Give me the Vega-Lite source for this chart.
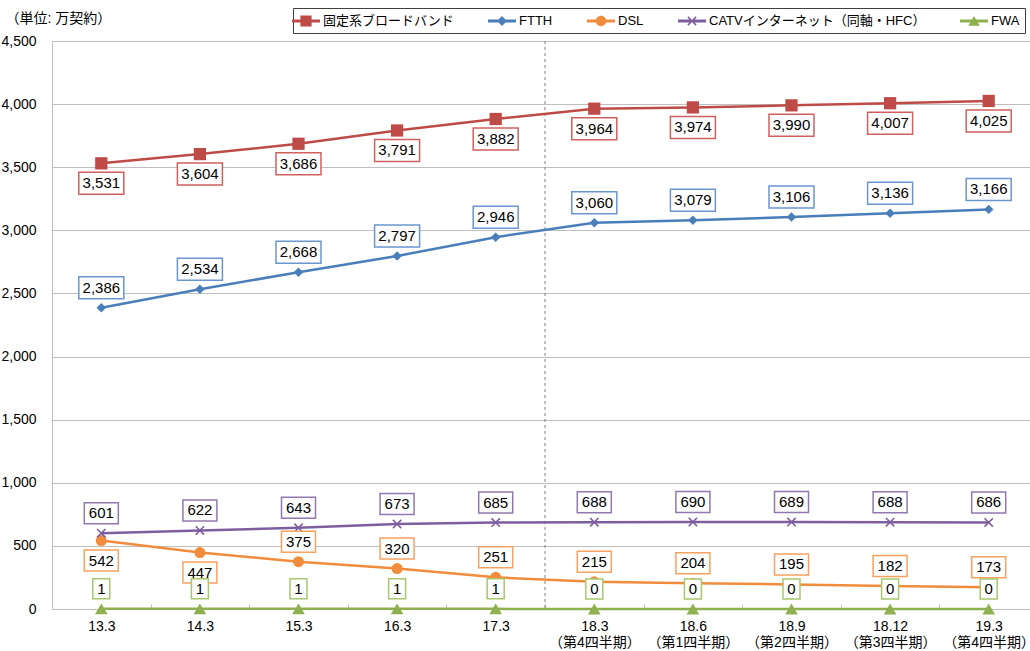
{
  "$schema": "https://vega.github.io/schema/vega-lite/v6.json",
  "width": 986,
  "height": 568,
  "autosize": {"type": "none"},
  "padding": {"left": 52, "top": 41, "right": 0, "bottom": 42},
  "background": "white",
  "config": {"view": {"stroke": null}, "font": "Liberation Sans, Noto Sans CJK JP"},
  "datasets": {
    "d": [
      {"t": "13.3", "s": "固定系ブロードバンド", "v": 3531},
      {"t": "14.3", "s": "固定系ブロードバンド", "v": 3604},
      {"t": "15.3", "s": "固定系ブロードバンド", "v": 3686},
      {"t": "16.3", "s": "固定系ブロードバンド", "v": 3791},
      {"t": "17.3", "s": "固定系ブロードバンド", "v": 3882},
      {"t": "18.3|（第4四半期）", "s": "固定系ブロードバンド", "v": 3964},
      {"t": "18.6|（第1四半期）", "s": "固定系ブロードバンド", "v": 3974},
      {"t": "18.9|（第2四半期）", "s": "固定系ブロードバンド", "v": 3990},
      {"t": "18.12|（第3四半期）", "s": "固定系ブロードバンド", "v": 4007},
      {"t": "19.3|（第4四半期）", "s": "固定系ブロードバンド", "v": 4025},
      {"t": "13.3", "s": "FTTH", "v": 2386},
      {"t": "14.3", "s": "FTTH", "v": 2534},
      {"t": "15.3", "s": "FTTH", "v": 2668},
      {"t": "16.3", "s": "FTTH", "v": 2797},
      {"t": "17.3", "s": "FTTH", "v": 2946},
      {"t": "18.3|（第4四半期）", "s": "FTTH", "v": 3060},
      {"t": "18.6|（第1四半期）", "s": "FTTH", "v": 3079},
      {"t": "18.9|（第2四半期）", "s": "FTTH", "v": 3106},
      {"t": "18.12|（第3四半期）", "s": "FTTH", "v": 3136},
      {"t": "19.3|（第4四半期）", "s": "FTTH", "v": 3166},
      {"t": "13.3", "s": "DSL", "v": 542},
      {"t": "14.3", "s": "DSL", "v": 447},
      {"t": "15.3", "s": "DSL", "v": 375},
      {"t": "16.3", "s": "DSL", "v": 320},
      {"t": "17.3", "s": "DSL", "v": 251},
      {"t": "18.3|（第4四半期）", "s": "DSL", "v": 215},
      {"t": "18.6|（第1四半期）", "s": "DSL", "v": 204},
      {"t": "18.9|（第2四半期）", "s": "DSL", "v": 195},
      {"t": "18.12|（第3四半期）", "s": "DSL", "v": 182},
      {"t": "19.3|（第4四半期）", "s": "DSL", "v": 173},
      {"t": "13.3", "s": "CATVインターネット（同軸・HFC）", "v": 601},
      {"t": "14.3", "s": "CATVインターネット（同軸・HFC）", "v": 622},
      {"t": "15.3", "s": "CATVインターネット（同軸・HFC）", "v": 643},
      {"t": "16.3", "s": "CATVインターネット（同軸・HFC）", "v": 673},
      {"t": "17.3", "s": "CATVインターネット（同軸・HFC）", "v": 685},
      {"t": "18.3|（第4四半期）", "s": "CATVインターネット（同軸・HFC）", "v": 688},
      {"t": "18.6|（第1四半期）", "s": "CATVインターネット（同軸・HFC）", "v": 690},
      {"t": "18.9|（第2四半期）", "s": "CATVインターネット（同軸・HFC）", "v": 689},
      {"t": "18.12|（第3四半期）", "s": "CATVインターネット（同軸・HFC）", "v": 688},
      {"t": "19.3|（第4四半期）", "s": "CATVインターネット（同軸・HFC）", "v": 686},
      {"t": "13.3", "s": "FWA", "v": 1},
      {"t": "14.3", "s": "FWA", "v": 1},
      {"t": "15.3", "s": "FWA", "v": 1},
      {"t": "16.3", "s": "FWA", "v": 1},
      {"t": "17.3", "s": "FWA", "v": 1},
      {"t": "18.3|（第4四半期）", "s": "FWA", "v": 0},
      {"t": "18.6|（第1四半期）", "s": "FWA", "v": 0},
      {"t": "18.9|（第2四半期）", "s": "FWA", "v": 0},
      {"t": "18.12|（第3四半期）", "s": "FWA", "v": 0},
      {"t": "19.3|（第4四半期）", "s": "FWA", "v": 0}
    ]
  },
  "layer": [
    {
      "data": {"values": [{"t": "18.3|（第4四半期）"}]},
      "mark": {"type": "rule", "color": "#7f7f7f", "strokeDash": [3, 3], "strokeWidth": 1},
      "encoding": {
        "x": {
          "field": "t", "type": "nominal", "bandPosition": 0,
          "scale": {"type": "band", "paddingInner": 0, "paddingOuter": 0,
            "domain": ["13.3","14.3","15.3","16.3","17.3","18.3|（第4四半期）","18.6|（第1四半期）","18.9|（第2四半期）","18.12|（第3四半期）","19.3|（第4四半期）"]},
          "axis": {"title": null, "labelExpr": "split(datum.label, '|')", "labelAngle": 0, "labelFontSize": 14, "labelColor": "#000",
            "labelFont": "Liberation Sans, Noto Sans CJK JP", "labelLineHeight": 16, "labelPadding": 15,
            "domainColor": "#bfbfbf", "ticks": true, "tickBand": "extent", "tickSize": -5, "tickColor": "#bfbfbf", "grid": false}
        }
      }
    },
    {
      "data": {"name": "d"},
      "transform": [{"filter": "datum.s === 'DSL'"}],
      "mark": {"type": "line", "strokeWidth": 2.5, "color": "#F08C3C",
        "point": {"shape": "circle", "filled": true, "size": 121, "color": "#F08C3C", "opacity": 1}},
      "encoding": {
        "x": {"field": "t", "type": "nominal"},
        "y": {
          "field": "v", "type": "quantitative",
          "scale": {"domain": [0, 4500], "nice": false},
          "axis": {"values": [0,500,1000,1500,2000,2500,3000,3500,4000,4500], "format": ",d", "grid": true, "gridColor": "#bfbfbf",
            "domainColor": "#bfbfbf", "ticks": false, "labelFontSize": 14, "labelColor": "#000", "labelPadding": 16,
            "labelFont": "Liberation Sans",
            "title": "（単位: 万契約）", "titleAngle": 0, "titleX": -47, "titleY": -23, "titleAlign": "left", "titleBaseline": "middle",
            "titleFontSize": 14, "titleFontWeight": "normal", "titleColor": "#000", "titleFont": "Liberation Sans, Noto Sans CJK JP"}
        },
        "order": {"value": null}
      }
    },
    {
      "data": {"name": "d"},
      "transform": [{"filter": "datum.s === 'FWA'"}],
      "mark": {"type": "line", "strokeWidth": 2.5, "color": "#8FB04E",
        "point": {"shape": "triangle-up", "filled": true, "size": 160, "color": "#8FB04E", "opacity": 1}},
      "encoding": {"x": {"field": "t", "type": "nominal"}, "y": {"field": "v", "type": "quantitative"}, "order": {"value": null}}
    },
    {
      "data": {"name": "d"},
      "transform": [{"filter": "datum.s === 'CATVインターネット（同軸・HFC）'"}],
      "mark": {"type": "line", "strokeWidth": 2.5, "color": "#7D5FA0",
        "point": {"shape": "M-1,-1L1,1M-1,1L1,-1", "filled": false, "size": 70, "strokeWidth": 1.6, "color": "#7D5FA0", "opacity": 1}},
      "encoding": {"x": {"field": "t", "type": "nominal"}, "y": {"field": "v", "type": "quantitative"}, "order": {"value": null}}
    },
    {
      "data": {"name": "d"},
      "transform": [{"filter": "datum.s === 'FTTH'"}],
      "mark": {"type": "line", "strokeWidth": 2.5, "color": "#4A7EBB",
        "point": {"shape": "diamond", "filled": true, "size": 90, "color": "#4A7EBB", "opacity": 1}},
      "encoding": {"x": {"field": "t", "type": "nominal"}, "y": {"field": "v", "type": "quantitative"}, "order": {"value": null}}
    },
    {
      "data": {"name": "d"},
      "transform": [{"filter": "datum.s === '固定系ブロードバンド'"}],
      "mark": {"type": "line", "strokeWidth": 2.5, "color": "#BE4B48",
        "point": {"shape": "square", "filled": true, "size": 150, "color": "#BE4B48", "opacity": 1}},
      "encoding": {"x": {"field": "t", "type": "nominal"}, "y": {"field": "v", "type": "quantitative"}, "order": {"value": null}}
    },
    {
      "data": {"name": "d"},
      "transform": [{"filter": "datum.s === '固定系ブロードバンド'"}],
      "mark": {"type": "point", "shape": "M-2.25,0.9H2.25V3.1H-2.25Z", "filled": true, "fill": "white", "size": 400, "strokeWidth": 1.5, "opacity": 1},
      "encoding": {"x": {"field": "t", "type": "nominal"}, "y": {"field": "v", "type": "quantitative"},
        "stroke": {"field": "s", "type": "nominal", "legend": null,
          "scale": {"domain": ["FWA","CATVインターネット（同軸・HFC）","DSL","FTTH","固定系ブロードバンド"],
            "range": ["#A9C76F","#9079B0","#F9A15F","#6A96CE","#D0605D"]}}}
    },
    {
      "data": {"name": "d"},
      "transform": [{"filter": "datum.s === 'FTTH'"}],
      "mark": {"type": "point", "shape": "M-2.25,-3.1H2.25V-0.9H-2.25Z", "filled": true, "fill": "white", "size": 400, "strokeWidth": 1.5, "opacity": 1},
      "encoding": {"x": {"field": "t", "type": "nominal"}, "y": {"field": "v", "type": "quantitative"},
        "stroke": {"field": "s", "type": "nominal", "legend": null}}
    },
    {
      "data": {"name": "d"},
      "transform": [{"filter": "datum.s === 'CATVインターネット（同軸・HFC）' || (datum.s === 'DSL' && datum.v < 400)"}],
      "mark": {"type": "point", "shape": "M-1.7,-3.05H1.7V-0.95H-1.7Z", "filled": true, "fill": "white", "size": 400, "strokeWidth": 1.5, "opacity": 1},
      "encoding": {"x": {"field": "t", "type": "nominal"}, "y": {"field": "v", "type": "quantitative"},
        "stroke": {"field": "s", "type": "nominal", "legend": null}}
    },
    {
      "data": {"name": "d"},
      "transform": [{"filter": "datum.s === 'DSL' && datum.v > 400"}],
      "mark": {"type": "point", "shape": "M-1.7,0.95H1.7V3.05H-1.7Z", "filled": true, "fill": "white", "size": 400, "strokeWidth": 1.5, "opacity": 1},
      "encoding": {"x": {"field": "t", "type": "nominal"}, "y": {"field": "v", "type": "quantitative"},
        "stroke": {"field": "s", "type": "nominal", "legend": null}}
    },
    {
      "data": {"name": "d"},
      "transform": [{"filter": "datum.s === 'FWA'"}],
      "mark": {"type": "point", "shape": "M-0.85,-3H0.85V-1H-0.85Z", "filled": true, "fill": "white", "size": 400, "strokeWidth": 1.5, "opacity": 1},
      "encoding": {"x": {"field": "t", "type": "nominal"}, "y": {"field": "v", "type": "quantitative"},
        "stroke": {"field": "s", "type": "nominal", "legend": null}}
    },
    {
      "data": {"name": "d"},
      "transform": [{"filter": "datum.s === '固定系ブロードバンド' || (datum.s === 'DSL' && datum.v > 400)"}],
      "mark": {"type": "text", "dy": 20, "fontSize": 15, "color": "#000", "font": "Liberation Sans"},
      "encoding": {"x": {"field": "t", "type": "nominal"}, "y": {"field": "v", "type": "quantitative"},
        "text": {"field": "v", "type": "quantitative", "format": ","}}
    },
    {
      "data": {"name": "d"},
      "transform": [{"filter": "!(datum.s === '固定系ブロードバンド' || (datum.s === 'DSL' && datum.v > 400))"}],
      "mark": {"type": "text", "dy": -20, "fontSize": 15, "color": "#000", "font": "Liberation Sans"},
      "encoding": {"x": {"field": "t", "type": "nominal"}, "y": {"field": "v", "type": "quantitative"},
        "text": {"field": "v", "type": "quantitative", "format": ","}}
    },
    {
      "data": {"name": "d"},
      "transform": [{"filter": "false"}],
      "mark": {"type": "point", "filled": true, "opacity": 1},
      "encoding": {
        "x": {"field": "t", "type": "nominal"},
        "y": {"field": "v", "type": "quantitative"},
        "color": {"field": "s", "type": "nominal",
          "scale": {"domain": ["固定系ブロードバンド","FTTH","DSL","CATVインターネット（同軸・HFC）","FWA"],
            "range": ["#BE4B48","#4A7EBB","#F08C3C","#7D5FA0","#8FB04E"]},
          "legend": {"orient": "none", "legendX": 241, "legendY": -33, "direction": "horizontal", "title": null,
            "labelFontSize": 13, "labelFont": "Liberation Sans, Noto Sans CJK JP", "labelColor": "#000",
            "symbolSize": 256, "symbolStrokeWidth": 0, "symbolOpacity": 1, "columnPadding": 34, "labelOffset": 9,
            "padding": 5, "strokeColor": "#404040", "fillColor": "white", "labelLimit": 400}},
        "shape": {"field": "s", "type": "nominal",
          "scale": {"domain": ["固定系ブロードバンド","FTTH","DSL","CATVインターネット（同軸・HFC）","FWA"],
            "range": [
              "M-1.75,-0.19H1.75V0.19H-1.75Z M-0.7,-0.7H0.7V0.7H-0.7Z",
              "M-1.75,-0.19H1.75V0.19H-1.75Z M0,-0.62L0.62,0L0,0.62L-0.62,0Z",
              "M-1.75,-0.19H1.75V0.19H-1.75Z M-0.65,0A0.65,0.65 0 1,1 0.65,0A0.65,0.65 0 1,1 -0.65,0Z",
              "M-1.75,-0.19H1.75V0.19H-1.75Z M-0.58,-0.44L-0.44,-0.58L0,-0.14L0.44,-0.58L0.58,-0.44L0.14,0L0.58,0.44L0.44,0.58L0,0.14L-0.44,0.58L-0.58,0.44L-0.14,0Z",
              "M-1.75,-0.19H1.75V0.19H-1.75Z M0,-0.64L0.72,0.58H-0.72Z"
            ]}}
      }
    }
  ]
}
